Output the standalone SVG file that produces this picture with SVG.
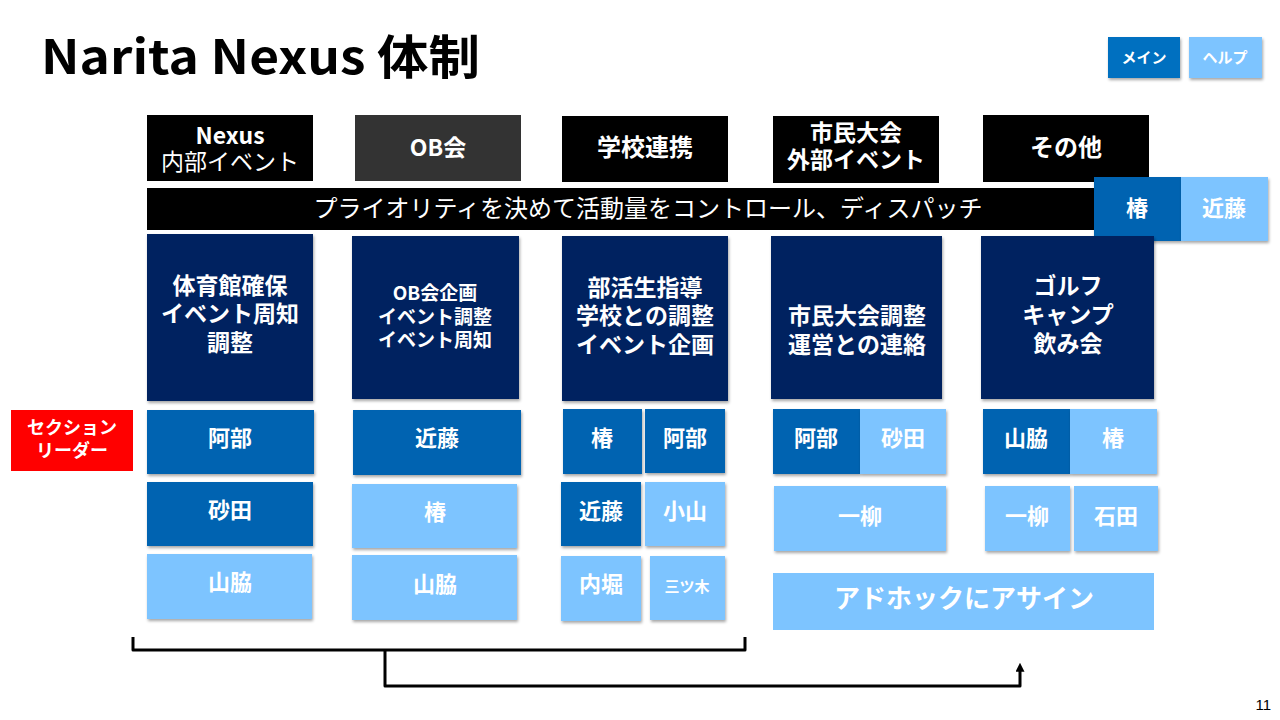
<svg xmlns="http://www.w3.org/2000/svg" width="1280" height="720" viewBox="0 0 1280 720">
<defs>
<filter id="sh" x="-10%" y="-10%" width="125%" height="130%">
<feDropShadow dx="1" dy="2" stdDeviation="1.5" flood-color="#000" flood-opacity="0.35"/>
</filter>
<marker id="arr" viewBox="0 0 10 10" refX="2" refY="5" markerWidth="3" markerHeight="3" orient="auto" markerUnits="strokeWidth">
<path d="M0,0 L10,5 L0,10 Z" fill="#000"/>
</marker>
</defs>
<style>
text{font-family:"Noto Sans CJK JP","Noto Sans",sans-serif;fill:#fff;text-anchor:middle}
.b{font-weight:bold}
.hd{fill:#000}
.ob{fill:#333333}
.nv{fill:#002060}
.dk{fill:#0063B1}
.lt{fill:#7DC4FF}
.t23{font-size:23px;font-weight:bold}
.nm{font-size:22px;font-weight:bold}
.conn{fill:none;stroke:#000;stroke-width:3;stroke-linejoin:round}
</style>
<rect width="1280" height="720" fill="#fff"/>

<text x="41" y="74" style="fill:#000;text-anchor:start;font-size:47px;font-weight:bold" textLength="439" lengthAdjust="spacingAndGlyphs">Narita Nexus 体制</text>

<g id="btn-main"><rect x="1108" y="37" width="72" height="41" fill="#0070C0" filter="url(#sh)"/><text x="1144" y="63" class="b" style="font-size:15px">メイン</text></g>
<g id="btn-help"><rect x="1189" y="37" width="73" height="41" fill="#7DC4FF" filter="url(#sh)"/><text x="1225" y="63" class="b" style="font-size:15px">ヘルプ</text></g>

<g id="h1"><rect x="147" y="115" width="166" height="66" class="hd"/><text x="230" y="144" class="b" style="font-size:23px">Nexus</text><text x="230" y="170" style="font-size:23px">内部イベント</text></g>
<g id="h2"><rect x="355" y="115" width="166" height="66" class="ob"/><text x="438" y="156" class="b" style="font-size:23px">OB会</text></g>
<g id="h3"><rect x="562" y="116" width="166" height="66" class="hd"/><text x="645" y="156" class="b" style="font-size:24px">学校連携</text></g>
<g id="h4"><rect x="773" y="116" width="166" height="67" class="hd"/><text x="856" y="141" class="b" style="font-size:23px">市民大会</text><text x="856" y="168" class="b" style="font-size:23px">外部イベント</text></g>
<g id="h5"><rect x="983" y="115" width="166" height="67" class="hd"/><text x="1066" y="156" class="b" style="font-size:24px">その他</text></g>

<g id="priority"><rect x="147" y="188" width="1003" height="42" class="hd"/><text x="648" y="217" style="font-size:24px">プライオリティを決めて活動量をコントロール、ディスパッチ</text></g>
<g id="dispatch-tsubaki"><rect x="1094" y="177" width="87" height="64" class="dk" filter="url(#sh)"/><text x="1137" y="216" class="nm">椿</text></g>
<g id="dispatch-kondo"><rect x="1181" y="177" width="87" height="64" class="lt" filter="url(#sh)"/><text x="1224" y="216" class="nm">近藤</text></g>

<g id="d1"><rect x="147" y="234" width="166" height="167" class="nv" filter="url(#sh)"/><text x="230" y="294" class="t23">体育館確保</text><text x="230" y="322" class="t23">イベント周知</text><text x="230" y="351" class="t23">調整</text></g>
<g id="d2"><rect x="352" y="236" width="167" height="163" class="nv" filter="url(#sh)"/><text x="435" y="300" class="b" style="font-size:19px">OB会企画</text><text x="435" y="324" class="b" style="font-size:19px">イベント調整</text><text x="435" y="347" class="b" style="font-size:19px">イベント周知</text></g>
<g id="d3"><rect x="562" y="236" width="166" height="165" class="nv" filter="url(#sh)"/><text x="645" y="296" class="t23">部活生指導</text><text x="645" y="324" class="t23">学校との調整</text><text x="645" y="353" class="t23">イベント企画</text></g>
<g id="d4"><rect x="771" y="236" width="171" height="163" class="nv" filter="url(#sh)"/><text x="857" y="324" class="t23">市民大会調整</text><text x="857" y="353" class="t23">運営との連絡</text></g>
<g id="d5"><rect x="981" y="236" width="173" height="163" class="nv" filter="url(#sh)"/><text x="1068" y="294" class="t23">ゴルフ</text><text x="1068" y="323" class="t23">キャンプ</text><text x="1068" y="352" class="t23">飲み会</text></g>

<g id="section-leader"><rect x="11" y="410" width="122" height="61" fill="#FF0000"/><text x="72" y="434" class="b" style="font-size:18px">セクション</text><text x="72" y="457" class="b" style="font-size:18px">リーダー</text></g>

<g id="c1-abe"><rect x="147" y="410" width="167" height="64" class="dk" filter="url(#sh)"/><text x="230" y="446" class="nm">阿部</text></g>
<g id="c1-sunada"><rect x="147" y="482" width="166" height="64" class="dk" filter="url(#sh)"/><text x="230" y="518" class="nm">砂田</text></g>
<g id="c1-yamawaki"><rect x="147" y="554" width="165" height="65" class="lt" filter="url(#sh)"/><text x="230" y="590" class="nm">山脇</text></g>

<g id="c2-kondo"><rect x="353" y="410" width="168" height="65" class="dk" filter="url(#sh)"/><text x="437" y="446" class="nm">近藤</text></g>
<g id="c2-tsubaki"><rect x="352" y="484" width="165" height="64" class="lt" filter="url(#sh)"/><text x="435" y="520" class="nm">椿</text></g>
<g id="c2-yamawaki"><rect x="352" y="555" width="165" height="65" class="lt" filter="url(#sh)"/><text x="435" y="592" class="nm">山脇</text></g>

<g id="c3-tsubaki"><rect x="563" y="409" width="79" height="65" class="dk" filter="url(#sh)"/><text x="602" y="446" class="nm">椿</text></g>
<g id="c3-abe"><rect x="645" y="409" width="80" height="64" class="dk" filter="url(#sh)"/><text x="685" y="446" class="nm">阿部</text></g>
<g id="c3-kondo"><rect x="561" y="482" width="80" height="64" class="dk" filter="url(#sh)"/><text x="601" y="519" class="nm">近藤</text></g>
<g id="c3-koyama"><rect x="645" y="482" width="80" height="64" class="lt" filter="url(#sh)"/><text x="685" y="519" class="nm">小山</text></g>
<g id="c3-uchibori"><rect x="561" y="556" width="80" height="65" class="lt" filter="url(#sh)"/><text x="601" y="592" class="nm">内堀</text></g>
<g id="c3-mitsugi"><rect x="650" y="556" width="75" height="64" class="lt" filter="url(#sh)"/><text x="687" y="592" class="b" style="font-size:15px">三ツ木</text></g>

<g id="c4-abe"><rect x="773" y="409" width="87" height="65" class="dk" filter="url(#sh)"/><text x="816" y="446" class="nm">阿部</text></g>
<g id="c4-sunada"><rect x="860" y="409" width="86" height="65" class="lt" filter="url(#sh)"/><text x="903" y="446" class="nm">砂田</text></g>
<g id="c4-ichiyanagi"><rect x="774" y="486" width="172" height="65" class="lt" filter="url(#sh)"/><text x="860" y="524" class="nm">一柳</text></g>

<g id="c5-yamawaki"><rect x="983" y="409" width="87" height="65" class="dk" filter="url(#sh)"/><text x="1026" y="446" class="nm">山脇</text></g>
<g id="c5-tsubaki"><rect x="1070" y="409" width="87" height="65" class="lt" filter="url(#sh)"/><text x="1113" y="446" class="nm">椿</text></g>
<g id="c5-ichiyanagi"><rect x="985" y="486" width="85" height="65" class="lt" filter="url(#sh)"/><text x="1027" y="524" class="nm">一柳</text></g>
<g id="c5-ishida"><rect x="1074" y="486" width="84" height="65" class="lt" filter="url(#sh)"/><text x="1116" y="524" class="nm">石田</text></g>

<g id="adhoc"><rect x="773" y="573" width="381" height="57" class="lt"/><text x="964" y="608" class="b" style="font-size:26px">アドホックにアサイン</text></g>

<g id="connectors">
<path class="conn" d="M133,637 V650 H745 V637"/>
<path class="conn" d="M385,650 V686 H1020 V670" marker-end="url(#arr)"/>
</g>

<text x="1271" y="710" style="fill:#000;text-anchor:end;font-family:'Liberation Sans',sans-serif;font-size:15px">11</text>
</svg>
